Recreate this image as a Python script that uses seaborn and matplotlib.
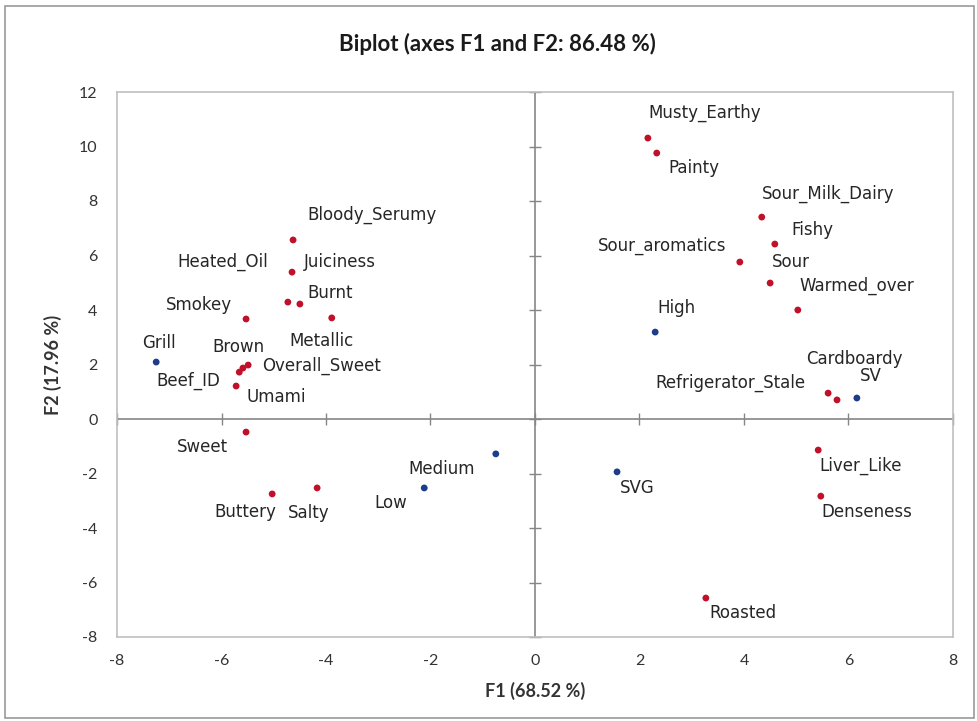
import matplotlib
matplotlib.use("Agg")
import matplotlib.pyplot as plt
import seaborn as sns
import pandas as pd
from matplotlib.patches import Rectangle

# ---- data ----
variables = ["Bloody_Serumy", "Juiciness", "Heated_Oil", "Burnt", "Metallic", "Smokey",
             "Brown", "Overall_Sweet", "Beef_ID", "Umami", "Sweet", "Buttery", "Salty",
             "Musty_Earthy", "Painty", "Sour_Milk_Dairy", "Fishy", "Sour_aromatics", "Sour",
             "Warmed_over", "Refrigerator_Stale", "Cardboardy", "Liver_Like", "Denseness",
             "Roasted"]
var_f1 = [-4.63, -4.65, -4.73, -4.50, -3.89, -5.53, -5.59, -5.49, -5.66, -5.72, -5.53,
          -5.03, -4.17, 2.16, 2.33, 4.34, 4.59, 3.92, 4.50, 5.03, 5.61, 5.78, 5.42, 5.47,
          3.27]
var_f2 = [6.57, 5.39, 4.29, 4.22, 3.71, 3.67, 1.87, 1.98, 1.72, 1.21, -0.48, -2.75, -2.53,
          10.31, 9.76, 7.41, 6.42, 5.76, 4.99, 4.00, 0.95, 0.70, -1.14, -2.83, -6.57]

observations = ["Grill", "Low", "Medium", "High", "SV", "SVG"]
obs_f1 = [-7.25, -2.12, -0.75, 2.30, 6.16, 1.57]
obs_f2 = [2.09, -2.53, -1.28, 3.19, 0.77, -1.94]

title = "Biplot (axes F1 and F2: 86.48 %)"
xlabel = "F1 (68.52 %)"
ylabel = "F2 (17.96 %)"
xticks = [-8, -6, -4, -2, 0, 2, 4, 6, 8]
yticks = [-8, -6, -4, -2, 0, 2, 4, 6, 8, 10, 12]

# label anchors (pixels): (dx, dy, ha) relative to point
label_offsets = {
    "Bloody_Serumy": (14, 25, "left"), "Juiciness": (12, 10, "left"),
    "Heated_Oil": (-20, 40, "right"), "Burnt": (8, 11, "left"),
    "Metallic": (22, -23, "right"), "Smokey": (-14, 14, "right"),
    "Grill": (20, 19, "right"), "Brown": (22, 21, "right"),
    "Overall_Sweet": (14, -1, "left"), "Beef_ID": (-19, -9, "right"),
    "Umami": (10, -11, "left"), "Sweet": (-18, -15, "right"),
    "Buttery": (4, -18, "right"), "Salty": (-29, -25, "left"),
    "Low": (-17, -15, "right"), "Medium": (-21, -15, "right"),
    "Musty_Earthy": (1, 25, "left"), "Painty": (12, -15, "left"),
    "Sour_Milk_Dairy": (0, 23, "left"), "Fishy": (17, 14, "left"),
    "Sour_aromatics": (-13, 16, "right"), "Sour": (2, 21, "left"),
    "Warmed_over": (2, 24, "left"), "High": (2, 24, "left"),
    "Cardboardy": (66, 41, "right"), "SV": (3, 22, "left"),
    "Refrigerator_Stale": (-23, 10, "right"), "Liver_Like": (1, -16, "left"),
    "Denseness": (1, -16, "left"), "SVG": (3, -16, "left"), "Roasted": (4, -15, "left"),
}

df = pd.DataFrame({
    "name": variables + observations,
    "F1": var_f1 + obs_f1,
    "F2": var_f2 + obs_f2,
    "kind": ["Variables"] * len(variables) + ["Observations"] * len(observations),
})

sns.set_theme(style="white")
plt.rcParams["font.family"] = ["DejaVu Sans"]
plt.rcParams["axes.unicode_minus"] = False

fig = plt.figure(figsize=(9.78, 7.21), dpi=100)
fig.patch.set_facecolor("white")
ax = fig.add_axes([117 / 978, 1 - 637 / 721, 836 / 978, 545 / 721])

sns.scatterplot(data=df, x="F1", y="F2", hue="kind",
                palette={"Variables": "#C0102A", "Observations": "#1F3C8C"},
                s=24, linewidth=0, legend=False, ax=ax, zorder=3)

ax.set_xlim(-8, 8)
ax.set_ylim(-8, 12)
ax.set_xticks(xticks)
ax.set_yticks(yticks)
ax.tick_params(axis="both", length=0, colors="#333333", labelcolor="#333333")
ax.tick_params(axis="x", pad=12)
ax.tick_params(axis="y", pad=14)
for lab in ax.get_xticklabels() + ax.get_yticklabels():
    lab.set_fontfamily("Lato")
    lab.set_fontsize(11.5)

for sp in ax.spines.values():
    sp.set_color("#BFBFBF")
    sp.set_linewidth(1.2)

# axes through origin
ax.axvline(0, color="#868686", lw=1.2, zorder=1)
ax.axhline(0, color="#868686", lw=1.2, zorder=1)

sec_y = ax.secondary_yaxis(0.5)
sec_y.set_yticks(yticks)
sec_y.tick_params(axis="y", direction="inout", length=8, width=1, color="#868686",
                  labelleft=False, labelright=False)
sec_y.spines["left"].set_visible(False)
sec_y.spines["right"].set_visible(False)
sec_x = ax.secondary_xaxis(0.4)
sec_x.set_xticks(xticks)
sec_x.tick_params(axis="x", direction="inout", length=8, width=1, color="#868686",
                  labelbottom=False, labeltop=False)
sec_x.spines["bottom"].set_visible(False)
sec_x.spines["top"].set_visible(False)

for name, x, y in zip(df["name"], df["F1"], df["F2"]):
    dx, dy, ha = label_offsets[name]
    ax.annotate(name, (x, y), xytext=(dx, dy), textcoords="offset pixels",
                ha=ha, va="center", fontsize=12, color="#262626", zorder=4)

ax.set_xlabel(xlabel, fontsize=13, fontweight="bold", fontfamily="Lato",
              color="#333333", labelpad=10)
ax.set_ylabel(ylabel, fontsize=13, fontweight="bold", fontfamily="Lato",
              color="#333333", labelpad=12)
fig.text(497 / 978, 1 - 44 / 721, title, ha="center", va="center",
         fontsize=16, fontweight="bold", fontfamily="Lato", color="#1a1a1a")

# outer chart border
fig.patches.append(Rectangle((5 / 978, 3 / 721), 969 / 978, 712 / 721,
                             transform=fig.transFigure, fill=False,
                             edgecolor="#9A9A9A", lw=1.2))

fig.savefig("out.png", dpi=100, facecolor="white")
